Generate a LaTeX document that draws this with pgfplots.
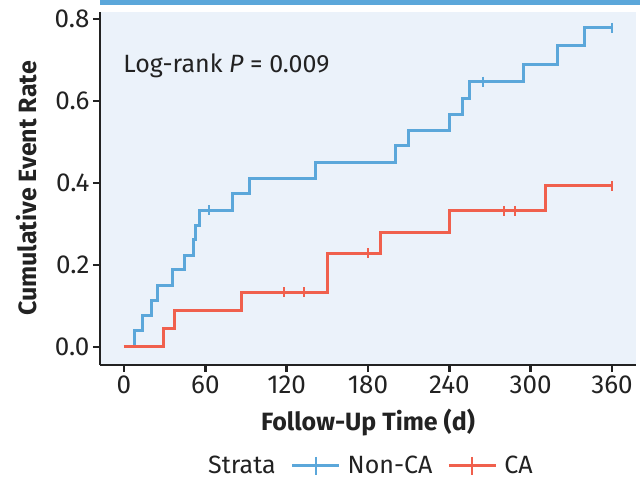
\documentclass[border=0pt]{standalone}
\usepackage{fontspec}
\setmainfont{Fira Sans}
\usepackage{pgfplots}
\pgfplotsset{compat=1.18}
\definecolor{nonca}{HTML}{5BA7DA}
\definecolor{ca}{HTML}{F0604D}
\definecolor{panel}{HTML}{EBF2FA}
\definecolor{axisk}{HTML}{222222}
\newcommand{\fs}{\fontsize{25}{30}\selectfont}
\newcommand{\ts}{\fontsize{26}{31}\selectfont}

% Kaplan-Meier step curves (cumulative event rate)
\pgfplotstableread{
t     r
0     0
8     0.039
14    0.076
20    0.113
25    0.151
36    0.188
45    0.224
51    0.261
52.5  0.297
56    0.334
80    0.374
92.5  0.411
141   0.450
200.5 0.491
210   0.529
240   0.568
250   0.607
255   0.647
294.5 0.690
320   0.735
340   0.778
360   0.778
}\nonca
\pgfplotstableread{
t     r
0     0
29    0.045
37.5  0.089
87    0.133
150   0.228
189.5 0.280
240   0.332
311   0.393
360   0.393
}\ca
% censored observations
\pgfplotstableread{
t     r
62.7  0.334
264.6 0.647
359.7 0.778
}\noncacens
\pgfplotstableread{
t     r
118.3 0.133
132.8 0.133
179.8 0.228
280.3 0.332
288.7 0.332
359.7 0.393
}\cacens

\begin{document}
\begin{tikzpicture}
\begin{axis}[
  scale only axis, width=536pt, height=353pt,
  xmin=-17.7, xmax=377.7, ymin=-0.044, ymax=0.817,
  axis x line*=bottom, axis y line*=left,
  axis line style={axisk, line width=2.4pt},
  axis background/.style={fill=panel},
  xtick={0,60,120,180,240,300,360}, ytick={0,0.2,0.4,0.6,0.8},
  tick align=outside, major tick length=7pt,
  tick style={axisk, line width=2.4pt},
  tick label style={font=\ts, text=axisk},
  /pgf/number format/assume math mode=true,
  yticklabel style={/pgf/number format/.cd, fixed, fixed zerofill, precision=1},
  xlabel={\bfseries Follow-Up Time (d)},
  ylabel={\bfseries Cumulative Event Rate},
  label style={font=\fs, text=axisk},
  xlabel style={at={(axis description cs:0.5,-0.164)}, anchor=center},
  ylabel style={at={(axis description cs:-0.137,0.5)}, anchor=center},
  legend columns=-1,
  legend style={at={(axis description cs:0.5,-0.286)}, anchor=center,
    draw=none, fill=none, font=\fs, text=axisk,
    /tikz/every odd column/.append style={column sep=5pt},
    /tikz/every even column/.append style={column sep=13pt}},
  legend image code/.code={\draw[mark repeat=2, mark phase=2]
    plot coordinates {(0pt,0pt) (23.5pt,0pt) (47pt,0pt)};},
]
\addlegendimage{empty legend}
\addlegendentry{Strata}
\addlegendimage{nonca, line width=3pt, mark=+, mark size=9pt, mark options={line width=2pt}}
\addlegendentry{Non-CA}
\addlegendimage{ca, line width=3pt, mark=+, mark size=9pt, mark options={line width=2pt}}
\addlegendentry{CA}

\addplot[forget plot, const plot, nonca, line width=3pt] table[x=t, y=r] {\nonca};
\addplot[forget plot, const plot, ca, line width=3pt] table[x=t, y=r] {\ca};
\addplot[forget plot, only marks, mark=|, mark size=5pt, nonca, mark options={line width=1.8pt}] table[x=t, y=r] {\noncacens};
\addplot[forget plot, only marks, mark=|, mark size=5pt, ca, mark options={line width=1.8pt}] table[x=t, y=r] {\cacens};

\node[anchor=base west, font=\fs, text=axisk] at (axis cs:-3,0.67) {Log-rank \textit{P} = 0.009};
\end{axis}
% top banner and page extent
\fill[nonca] ([yshift=7pt]current axis.north west) rectangle ([xshift=4pt, yshift=12pt]current axis.north east);
\path ([xshift=-100pt, yshift=-113pt]current axis.south west) rectangle ([xshift=6pt, yshift=12pt]current axis.north east);
\end{tikzpicture}
\end{document}
